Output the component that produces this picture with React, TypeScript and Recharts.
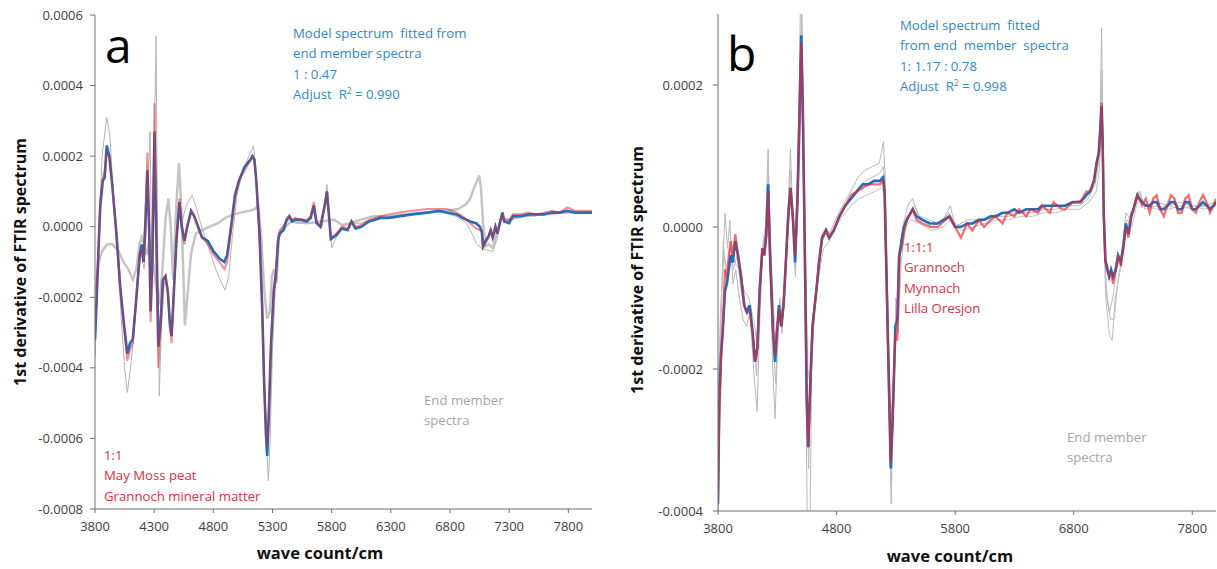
import { LineChart, Line, XAxis, YAxis } from 'recharts'

// values are in units of 1e-5 (tick labels convert back)

// ── Panel a ───────────────────────────────────────────────────────────────────

const A_X_TICKS = [3800, 4300, 4800, 5300, 5800, 6300, 6800, 7300, 7800]
const A_Y_TICKS = [-80, -60, -40, -20, 0, 20, 40, 60]

const A_WN = [
  3800, 3815, 3830, 3845, 3866, 3882, 3899, 3921, 3948, 3981,
  4013, 4046, 4073, 4096, 4119, 4145, 4178, 4194, 4211, 4227,
  4243, 4257, 4270, 4286, 4303, 4316, 4335, 4352, 4375, 4395,
  4414, 4434, 4447, 4467, 4490, 4513, 4533, 4556, 4579, 4612,
  4638, 4671, 4704, 4753, 4802, 4852, 4894, 4917, 4950, 4983,
  5016, 5065, 5114, 5130, 5147, 5163, 5190, 5213, 5229, 5245,
  5255, 5268, 5288, 5311, 5328, 5347, 5360, 5393, 5420, 5442,
  5465, 5491, 5540, 5590, 5623, 5649, 5672, 5705, 5747, 5760,
  5780, 5793, 5836, 5886, 5935, 5968, 6001, 6050, 6116, 6215,
  6280, 6379, 6478, 6609, 6708, 6774, 6856, 6905, 6971, 7020,
  7053, 7069, 7079, 7102, 7128, 7144, 7161, 7184, 7200, 7243,
  7259, 7299, 7332, 7398, 7464, 7530, 7595, 7661, 7727, 7792,
  7858, 7924, 8000,
]
const A_MODEL = [
  -32, -20, -6, 6, 13, 14, 23, 20, 11, -2,
  -17, -28, -36, -33, -32, -22, -8, -5, -10, 2,
  16, 0, -24, -8, 27, 2, -34, -28, -15, -14,
  -18, -28, -31, -18, -3, 7, 0, -4, 0, 4.5,
  3, 0, -3, -4, -7, -9, -10, -8, 0, 9,
  13, 17, 19, 20, 19, 13, -2, -23, -44, -59,
  -65, -54, -33, -18, -14, -4, -2, -1, 2, 3,
  1.5, 2, 2, 1.5, 2.5, 6, 1, 0, 7, 10,
  2, -3.5, -2.5, -0.5, -1, 1.5, -0.5, 0, 1.5, 2.5,
  2.5, 3, 3.5, 4, 4.5, 4, 3.5, 2.5, 1.5, 1,
  0, -1.5, -5.5, -4, -2.5, -1, -3, 0, -2, 4,
  1.5, 1, 3, 3, 3.5, 3.5, 3.5, 4, 4, 4.5,
  4, 4, 4,
]
const A_MIX = [
  -28, -18, -5, 8, 14, 16, 21, 20, 11, -2,
  -17, -29, -38, -35, -33, -22, -8, -6, -10, 3,
  21, 2, -27, -8, 35, 4, -40, -30, -15, -14,
  -18, -28, -33, -18, -3, 8, 1, -5, 0, 4.5,
  3, 0, -3, -5, -8, -10, -12, -10, -1, 8,
  13, 16, 19, 20, 19, 13, -2, -23, -44, -58,
  -62, -53, -33, -18, -13, -3, -1, 0, 2, 3,
  2, 2.5, 2, 2, 3, 7, 1.5, 0, 7, 10,
  2, -3, -2, 0, -0.5, 1.5, 0, 0.5, 2, 3,
  3.5, 4, 4.5, 5, 5, 5, 4, 3, 1, -0.5,
  -1, -1, -6, -4.5, -3, -1, -3, 0, -2, 4,
  1.5, 2, 3.5, 3.5, 4, 3.5, 4, 4.5, 4, 5.5,
  4.5, 4.5, 4.5,
]

// end member: May Moss peat (thin grey)
const A_PEAT_WN = [
  3800, 3830, 3860, 3899, 3925, 3950, 3985, 4020, 4050, 4073,
  4100, 4130, 4165, 4194, 4215, 4243, 4265, 4280, 4300, 4316,
  4328, 4343, 4360, 4385, 4400, 4420, 4440, 4455, 4470, 4490,
  4513, 4540, 4570, 4620, 4660, 4700, 4760, 4820, 4870, 4900,
  4930, 4960, 5000, 5050, 5100, 5140, 5160, 5190, 5215, 5240,
  5265, 5280, 5300, 5320, 5340, 5360, 5400, 5450, 5500, 5550,
  5600, 5650, 5680, 5720, 5760, 5785, 5800, 5840, 5900, 5960,
  6050, 6150, 6300, 6450, 6600, 6750, 6850, 6940, 6987, 7020,
  7060, 7100, 7161, 7194, 7230, 7300, 7400, 7500, 7600, 7700,
  7800, 7900, 8000,
]
const A_PEAT = [
  -37, -5, 20, 31, 26, 12, -5, -25, -40, -47,
  -40, -30, -12, -8, -12, 5, 27, -10, 20, 54,
  0, -48, -30, -16, -15, -20, -30, -28, -18, -4,
  5, 2, 6, 9, 5, 0, -6, -12, -16, -18,
  -14, -3, 9, 16, 20, 23, 16, -3, -28, -55,
  -72, -60, -35, -20, -8, -2, 1, 2, 1, 1,
  1.5, 6, 1, 0, 12, 1, -6, -3, 0, 1,
  1, 2, 3, 3.5, 4, 4, 3, 1, -2, -4.5,
  -6, -6.5, -7, -4, 2, 2, 3, 3, 3.5, 4,
  4, 4, 4,
]

// end member: Grannoch mineral matter (thick light grey)
const A_MINERAL_WN = [
  3800, 3830, 3860, 3900, 3950, 4000, 4040, 4080, 4120, 4150,
  4175, 4195, 4215, 4240, 4262, 4290, 4320, 4345, 4370, 4395,
  4420, 4440, 4460, 4485, 4510, 4530, 4560, 4580, 4610, 4650,
  4700, 4770, 4840, 4900, 4970, 5030, 5100, 5150, 5180, 5203,
  5230, 5255, 5278, 5295, 5314, 5335, 5354, 5376, 5460, 5590,
  5720, 5820, 5886, 5951, 6050, 6150, 6280, 6450, 6610, 6770,
  6870, 6940, 6971, 7003, 7030, 7046, 7062, 7079, 7102, 7128,
  7161, 7194, 7233, 7300, 7430, 7600, 7760, 8000,
]
const A_MINERAL = [
  -19, -10, -7, -5, -5, -7, -10, -12, -15, -12,
  -5, -3, -5, -8, -3, -10, -18, -22, -12, 2,
  8, 0, -15, 5, 18, 5, -28, -20, -8, -2,
  -1, 0, 1, 2.5, 3.5, 4, 4.5, 5, 6, -2,
  -18, -26, -24, -14, -12, -16, -3, -1, 1.5, 1,
  1.5, 2, 0.5, 1, 2, 3, 3, 3.5, 4, 4.5,
  5, 6.5, 8, 11, 13, 14.5, 11, 1, -5.5, -5,
  -6, -2, 2.5, 2, 3, 3.5, 4, 4,
]

// ── Panel b ───────────────────────────────────────────────────────────────────

const B_X_TICKS = [3800, 4800, 5800, 6800, 7800]
const B_Y_TICKS = [-40, -20, 0, 20]

const B_WN = [
  3800, 3810, 3825, 3839, 3859, 3875, 3891, 3907, 3924, 3946,
  3969, 3995, 4021, 4044, 4067, 4093, 4112, 4132, 4151, 4174,
  4190, 4207, 4223, 4239, 4262, 4281, 4301, 4314, 4333, 4353,
  4372, 4392, 4411, 4431, 4450, 4470, 4489, 4502, 4515, 4532,
  4548, 4561, 4574, 4597, 4629, 4652, 4678, 4711, 4737, 4776,
  4824, 4873, 4922, 4971, 5020, 5068, 5117, 5166, 5192, 5205,
  5224, 5237, 5257, 5273, 5296, 5312, 5328, 5348, 5367, 5393,
  5442, 5475, 5524, 5589, 5654, 5751, 5800, 5849, 5900, 5946,
  6000, 6044, 6100, 6141, 6200, 6239, 6300, 6337, 6400, 6434,
  6500, 6532, 6600, 6629, 6700, 6727, 6792, 6857, 6906, 6938,
  6971, 6993, 7012, 7025, 7035, 7044, 7054, 7067, 7083, 7099,
  7115, 7132, 7154, 7174, 7197, 7220, 7239, 7262, 7285, 7304,
  7320, 7337, 7353, 7376, 7408, 7441, 7470, 7500, 7530, 7560,
  7590, 7620, 7650, 7680, 7710, 7740, 7770, 7800, 7830, 7860,
  7890, 7920, 7950, 7980, 8000,
]
const B_MODEL = [
  -39, -25, -18, -15, -9, -8, -6, -4, -5, -2,
  -4, -7, -11, -12, -11, -15, -19, -17, -9, -3,
  -4, -1, 6, -4, -14, -19, -14, -11, -14, -11,
  -5, 1.5, 5.5, 1.5, -5, 4, 17, 27, 17, -3,
  -24, -31, -24, -14, -9, -5, -1.5, -0.5, -1.5, -0.5,
  1.5, 3, 4, 5, 6, 6, 6.5, 6.5, 7, 5,
  -9, -19, -34, -27, -14, -13, -4, -2, 0, 1,
  2.5, 1.5, 1, 0.5, 0.5, 1.5, 0, 0, 0.5, 0.5,
  1, 1, 1.5, 1.5, 2, 2, 2.5, 2, 2.5, 2.5,
  2.5, 3, 3, 3, 3, 3, 3.5, 3.5, 4.5, 5,
  6.5, 9, 10.5, 14, 17, 12, 1.5, -4.5, -6, -7,
  -6, -7, -6, -4, -5, -2.5, 0.5, -1, 1.5, 2.5,
  3.5, 4.5, 4, 3.5, 3, 3, 3.5, 3.5, 2.5, 2.5,
  3, 3.5, 3.5, 2.5, 2.5, 3.5, 3.5, 2.5, 2.5, 3,
  3.5, 3, 2.5, 3, 3.5,
]
const B_MIX = [
  -38, -28, -19, -15, -6, -7, -4, -2, -4, -1,
  -4, -7, -11, -12, -12, -15, -19, -17, -9, -3,
  -4, -1.5, 5, -4, -14, -18, -14, -11.5, -14, -11,
  -5, 1.5, 5.5, 1.5, -4, 4, 17, 26, 17, -3,
  -24, -31, -25, -14, -9, -5, -1.5, -0.5, -1.5, -0.5,
  1.5, 3, 4.5, 5, 5.5, 6, 6, 6, 6.5, 5,
  -9, -19, -33, -27, -15, -16, -4, -3, -1, 1,
  2.5, 1, 0.5, 0, 0, 1.5, 0, -1.5, 0.5, -0.5,
  1, 0, 1, 1.5, 0.5, 2, 1.5, 2.5, 1.5, 2.5,
  2, 3, 2, 3.5, 2.5, 2.5, 3.5, 3.5, 5, 5,
  6.5, 9, 10.5, 14, 17.5, 12, 1.5, -5, -5.5, -7,
  -6.5, -8, -6, -4, -5.5, -3, 0, -1.5, 1.5, 2.5,
  3.5, 4.5, 4, 3, 4, 2, 4, 4.5, 2.5, 1.5,
  3, 4.5, 4, 2, 2, 4, 4.5, 2.5, 2, 3.5,
  4.5, 3.5, 2, 3, 4,
]

// end members (thin grey): Grannoch, Mynnach, Lilla Oresjon
const B_G1_WN = [
  3800, 3815, 3840, 3860, 3880, 3900, 3925, 3950, 3980, 4010,
  4040, 4070, 4100, 4130, 4150, 4175, 4200, 4223, 4240, 4262,
  4281, 4300, 4320, 4340, 4360, 4380, 4411, 4430, 4450, 4470,
  4490, 4502, 4515, 4535, 4555, 4575, 4590, 4620, 4650, 4680,
  4711, 4740, 4790, 4850, 4920, 4980, 5040, 5100, 5160, 5195,
  5210, 5230, 5260, 5280, 5300, 5320, 5340, 5360, 5400, 5440,
  5480, 5520, 5600, 5700, 5760, 5800, 5900, 6000, 6100, 6200,
  6300, 6400, 6500, 6600, 6700, 6800, 6900, 6960, 7000, 7020,
  7035, 7045, 7060, 7080, 7110, 7140, 7170, 7200, 7240, 7280,
  7320, 7350, 7400, 7500, 7600, 7700, 7800, 7900, 8000,
]
const B_G1 = [
  -42, -20, -5, 2, -3, 1, -8, -6, -10, -13,
  -14, -12, -20, -26, -14, -4, 0, 11, -5, -20,
  -27, -18, -11, -15, -10, -2, 11, 2, -6, 5,
  25, 42, 20, -10, -46, -44, -20, -10, -6, -1,
  0, -1, 1, 3, 5, 7, 8, 8.5, 9, 12,
  7, -12, -39, -25, -10, -12, -2, 0, 3, 4,
  2, 1, 0, 1, 3, 0, 1, 1, 1.5, 2,
  2, 2.5, 2.5, 3, 3, 3.5, 4, 6, 9, 13,
  28, 10, -3, -10, -13, -13, -8, -5, 2, 1,
  4, 5, 3, 3.5, 3, 3.5, 3, 3, 3.5,
]
const B_G2_WN = [
  3800, 3820, 3845, 3870, 3900, 3930, 3960, 3995, 4030, 4060,
  4100, 4125, 4150, 4180, 4210, 4225, 4245, 4265, 4285, 4305,
  4320, 4345, 4375, 4411, 4435, 4452, 4472, 4490, 4503, 4515,
  4535, 4555, 4565, 4580, 4605, 4640, 4680, 4720, 4760, 4800,
  4860, 4920, 4980, 5040, 5100, 5160, 5195, 5208, 5228, 5258,
  5276, 5300, 5320, 5340, 5370, 5420, 5460, 5500, 5580, 5660,
  5750, 5800, 5880, 5950, 6050, 6150, 6250, 6350, 6450, 6550,
  6650, 6750, 6850, 6920, 6980, 7010, 7030, 7040, 7050, 7070,
  7100, 7130, 7160, 7200, 7240, 7280, 7320, 7360, 7400, 7500,
  7600, 7700, 7800, 7900, 8000,
]
const B_G2 = [
  -30, -15, -2, -8, -3, -6, -4, -9, -12, -11,
  -16, -21, -10, -2, 1, 8, -3, -16, -22, -15,
  -10, -13, -5, 8, 0, -7, 3, 18, 31, 16,
  -5, -28, -34, -22, -12, -7, -2, -0.5, -1, 0.5,
  2.5, 4, 5.5, 6.5, 7, 7.5, 8.5, 6, -10, -36,
  -26, -14, -13, -3, 1, 2, 3, 1.5, 1, 0.5,
  2, 0.5, 0, 0.5, 1, 1.5, 1.5, 2, 2, 2.5,
  2.5, 3, 3, 4, 6, 9, 15, 22, 5, -8,
  -12, -10, -6, -4, -1, 2, 3, 5, 2.5, 3,
  2.5, 3, 2.5, 3, 3,
]
const B_G3_WN = [
  3800, 3820, 3850, 3880, 3910, 3940, 3980, 4020, 4060, 4100,
  4125, 4150, 4180, 4210, 4225, 4245, 4270, 4290, 4310, 4340,
  4370, 4411, 4440, 4455, 4475, 4492, 4504, 4516, 4535, 4558,
  4575, 4600, 4640, 4690, 4740, 4790, 4850, 4920, 4990, 5060,
  5120, 5180, 5205, 5226, 5258, 5278, 5300, 5320, 5345, 5380,
  5430, 5500, 5600, 5700, 5760, 5850, 5950, 6050, 6150, 6250,
  6350, 6450, 6550, 6650, 6750, 6850, 6930, 6990, 7015, 7030,
  7040, 7052, 7070, 7100, 7125, 7150, 7180, 7210, 7250, 7290,
  7330, 7360, 7400, 7500, 7600, 7700, 7800, 7900, 8000,
]
const B_G3 = [
  -25, -12, -4, -6, -3, -5, -6, -9, -10, -13,
  -16, -9, -3, 0, 4, -3, -12, -16, -12, -12,
  -6, 4, -1, -4, 2, 12, 22, 12, -2, -20,
  -22, -14, -8, -3, -2, 0, 1.5, 3, 4, 4.5,
  5, 5.5, 4.5, -7, -28, -22, -13, -15, -5, 0,
  1, 0.5, -0.5, 0, 1, -0.5, 0, 0.5, 1, 1,
  1.5, 1.5, 2, 2, 2.5, 2.5, 3.5, 5, 8, 12,
  14, 0, -10, -15, -16, -10, -7, -4, 1, 0,
  3, 4, 3, 2.5, 3, 2.5, 3, 2.5, 3,
]

// ── Helpers ───────────────────────────────────────────────────────────────────

const FONT = '"Open Sans", "Liberation Sans", sans-serif'
const BLUE = '#1f6fc0'
const RED = '#e6202a'
const TEXT_BLUE = '#3388c4'
const TEXT_RED = '#e0303c'
const TEXT_GREY = '#a6a6a6'
const AXIS = '#6e6e6e'

const pts = (xs: number[], ys: number[]) => xs.map((x, i) => ({ x, y: ys[i] }))
const fmtY = (v: number) => (v / 100000).toFixed(4)
const tick = { fontSize: 13, fill: '#404040', fontFamily: FONT }
const sup = { fontSize: 8.5, verticalAlign: 'top', lineHeight: '14px' }

function TextBlock({ left, top, color, lines }: { left: number; top: number; color: string; lines: React.ReactNode[] }) {
  return (
    <div style={{ position: 'absolute', left, top, color, fontSize: 13.2, lineHeight: '20.6px', whiteSpace: 'pre', fontFamily: FONT }}>
      {lines.map((l, i) => <div key={i}>{l}</div>)}
    </div>
  )
}

function YTitle({ cx, cy }: { cx: number; cy: number }) {
  return (
    <div style={{
      position: 'absolute', left: cx - 160, top: cy - 11, width: 320, height: 22,
      textAlign: 'center', fontWeight: 700, fontSize: 16, lineHeight: '22px',
      transform: 'rotate(-90deg)', color: '#111', fontFamily: FONT,
    }}>
      1st derivative of FTIR spectrum
    </div>
  )
}

function XTitle({ cx, cy }: { cx: number; cy: number }) {
  return (
    <div style={{
      position: 'absolute', left: cx - 100, top: cy - 11, width: 200, height: 22,
      textAlign: 'center', fontWeight: 700, fontSize: 16.5, lineHeight: '22px', color: '#111', fontFamily: FONT,
    }}>
      wave count/cm
    </div>
  )
}

function PanelLetter({ left, top, letter }: { left: number; top: number; letter: string }) {
  return (
    <div style={{ position: 'absolute', left, top, fontSize: 48, lineHeight: '48px', color: '#000', fontFamily: FONT }}>
      {letter}
    </div>
  )
}

// ── Main ──────────────────────────────────────────────────────────────────────

export default function App() {
  return (
    <div style={{ position: 'absolute', left: 0, top: 0, width: 1217, height: 569, background: '#fff', fontFamily: FONT, overflow: 'hidden' }}>
      {/* panel a */}
      <div style={{ position: 'absolute', left: 0, top: 0 }}>
        <LineChart width={600} height={569} margin={{ top: 15, right: 8, bottom: 30, left: 10 }}>
          <XAxis
            type="number" dataKey="x" domain={[3800, 8000]} ticks={A_X_TICKS} allowDataOverflow
            height={30} tick={tick} tickSize={4} tickMargin={9} stroke={AXIS}
          />
          <XAxis xAxisId="top" orientation="top" type="number" dataKey="x" domain={[3800, 8000]}
            height={0} tick={false} tickLine={false} stroke={AXIS} />
          <YAxis
            type="number" domain={[-80, 60]} ticks={A_Y_TICKS} allowDataOverflow tickFormatter={fmtY}
            width={85} tick={tick} tickSize={5} tickMargin={7} stroke={AXIS}
          />
          <YAxis yAxisId="right" orientation="right" type="number" domain={[-80, 60]}
            width={0} tick={false} tickLine={false} stroke={AXIS} />
          <Line data={pts(A_MINERAL_WN, A_MINERAL)} dataKey="y" stroke="#c4c4c4" strokeWidth={2.5} dot={false} isAnimationActive={false} />
          <Line data={pts(A_PEAT_WN, A_PEAT)} dataKey="y" stroke="#b4b4b4" strokeWidth={1} dot={false} isAnimationActive={false} />
          <Line data={pts(A_WN, A_MODEL)} dataKey="y" stroke={BLUE} strokeWidth={2.6} dot={false} isAnimationActive={false} />
          <Line data={pts(A_WN, A_MIX)} dataKey="y" stroke={RED} strokeOpacity={0.5} strokeWidth={2} dot={false} isAnimationActive={false} />
        </LineChart>
      </div>

      {/* panel b */}
      <div style={{ position: 'absolute', left: 610, top: 0 }}>
        <LineChart width={607} height={569} margin={{ top: 14, right: 1, bottom: 28, left: 18 }}>
          <XAxis
            type="number" dataKey="x" domain={[3800, 8000]} ticks={B_X_TICKS} allowDataOverflow
            height={30} tick={tick} tickSize={4} tickMargin={9} stroke={AXIS}
          />
          <XAxis xAxisId="top" orientation="top" type="number" dataKey="x" domain={[3800, 8000]}
            height={0} tick={false} tickLine={false} stroke={AXIS} />
          <YAxis
            type="number" domain={[-40, 30]} ticks={B_Y_TICKS} allowDataOverflow tickFormatter={fmtY}
            width={90} tick={tick} tickSize={5} tickMargin={10} stroke={AXIS}
          />
          <YAxis yAxisId="right" orientation="right" type="number" domain={[-40, 30]}
            width={0} tick={false} tickLine={false} stroke={AXIS} />
          <Line data={pts(B_G1_WN, B_G1)} dataKey="y" stroke="#b8b8b8" strokeWidth={1} dot={false} isAnimationActive={false} />
          <Line data={pts(B_G2_WN, B_G2)} dataKey="y" stroke="#bcbcbc" strokeWidth={1} dot={false} isAnimationActive={false} />
          <Line data={pts(B_G3_WN, B_G3)} dataKey="y" stroke="#c0c0c0" strokeWidth={1} dot={false} isAnimationActive={false} />
          <Line data={pts(B_WN, B_MODEL)} dataKey="y" stroke={BLUE} strokeWidth={2.6} dot={false} isAnimationActive={false} />
          <Line data={pts(B_WN, B_MIX)} dataKey="y" stroke={RED} strokeOpacity={0.65} strokeWidth={2.2} dot={false} isAnimationActive={false} />
        </LineChart>
      </div>

      <PanelLetter left={105} top={21} letter="a" />
      <PanelLetter left={727} top={29} letter="b" />

      <TextBlock left={293} top={22.7} color={TEXT_BLUE} lines={[
        'Model spectrum  fitted from',
        'end member spectra',
        '1 : 0.47',
        <>Adjust  R<sup style={sup}>2</sup> = 0.990</>,
      ]} />
      <TextBlock left={104} top={444.7} color={TEXT_RED} lines={['1:1', 'May Moss peat', 'Grannoch mineral matter']} />
      <TextBlock left={424} top={389.7} color={TEXT_GREY} lines={['End member', 'spectra']} />

      <TextBlock left={900} top={14.7} color={TEXT_BLUE} lines={[
        'Model spectrum  fitted',
        'from end  member  spectra',
        '1: 1.17 : 0.78',
        <>Adjust  R<sup style={sup}>2</sup> = 0.998</>,
      ]} />
      <TextBlock left={904} top={236.7} color={TEXT_RED} lines={['1:1:1', 'Grannoch', 'Mynnach', 'Lilla Oresjon']} />
      <TextBlock left={1067} top={426.7} color={TEXT_GREY} lines={['End member', 'spectra']} />

      <YTitle cx={20} cy={262} />
      <YTitle cx={637} cy={270} />
      <XTitle cx={320} cy={553} />
      <XTitle cx={950} cy={556} />
    </div>
  )
}
